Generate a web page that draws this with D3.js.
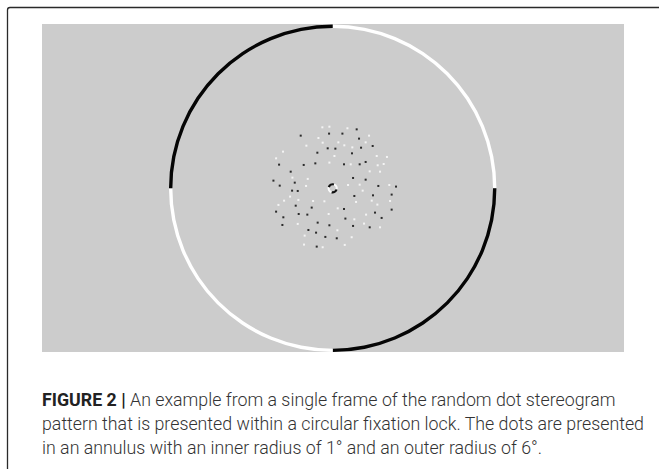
<!DOCTYPE html>
<html>
<head>
<meta charset="utf-8">
<script src="https://cdn.jsdelivr.net/npm/d3@7"></script>
<style>
  html, body { margin: 0; padding: 0; background: #fff; }
  svg { display: block; }
</style>
</head>
<body>
<svg id="chart" width="659" height="469"></svg>
<script>
// ---- DATA (positions in degrees of visual angle, relative to fixation) ----
const darkDotsX = [-3.00,-0.34,0.91,2.25,2.47,3.75,-1.44,-0.47,0.25,1.81,2.66,-2.72,-1.63,1.06,2.53,3.09,-5.03,-3.94,-5.56,-4.97,-3.56,-3.81,-3.28,1.91,3.09,4.28,5.94,2.03,3.78,5.53,-3.47,-1.97,-5.31,-3.19,-2.38,1.06,1.19,3.97,4.59,5.53,-4.63,-4.72,-1.41,-0.31,1.91,3.47,-2.28,-1.56,-0.69,0.38,-1.50];
const darkDotsY = [-4.94,-5.13,-5.13,-5.53,-4.66,-3.97,-3.34,-3.75,-3.72,-3.28,-3.81,-2.19,-2.34,-2.25,-2.25,-2.47,-2.22,-1.56,-0.72,-0.25,-0.53,0.22,0.25,-0.97,-0.81,-0.22,-0.16,0.72,0.66,0.59,1.63,1.81,2.19,2.41,2.47,1.94,2.84,2.28,2.78,2.00,2.72,3.44,3.22,3.47,3.53,3.66,3.91,4.16,4.56,4.69,5.47];
const lightDotsX = [-0.97,-0.31,1.38,3.41,-1.34,-0.94,-2.47,0.53,1.09,1.84,3.09,-4.66,-5.31,0.16,4.13,5.09,-0.31,1.69,4.22,4.78,3.47,4.44,-3.78,-2.34,-2.50,1.44,2.53,5.31,2.81,-4.00,-4.56,-3.22,-1.84,-0.78,2.19,3.66,5.38,-5.09,4.19,0.47,-0.38,3.13,2.03,-3.28,2.94,4.44,0.44,-2.63,1.78,1.13,-2.69,-0.94];
const lightDotsY = [-5.72,-5.78,-5.63,-4.94,-4.72,-4.28,-4.00,-4.31,-4.03,-3.84,-4.31,-3.44,-2.81,-3.03,-3.03,-2.94,-2.41,-2.25,-2.16,-2.28,-1.59,-1.56,-1.00,-0.88,-0.22,-0.31,-0.34,-0.31,0.22,0.78,1.16,1.09,1.19,1.22,1.28,1.16,1.19,1.56,1.53,1.88,2.41,2.47,2.91,3.34,3.31,3.66,3.94,4.44,4.59,5.31,5.28,5.53];
const lockRadiusDeg = 15.2;          // circular fixation lock
const fixationRadiusDeg = 0.38;      // central fixation marker
// quadrants of the lock, clockwise from 12 o'clock
const lockSegments = ["white", "black", "white", "black"];
const captionBold = "FIGURE 2 |";
const captionLines = [
  " An example from a single frame of the random dot stereogram",
  "pattern that is presented within a circular fixation lock. The dots are presented",
  "in an annulus with an inner radius of 1\u00b0 and an outer radius of 6\u00b0."
];

// ---- LAYOUT ----
const svg = d3.select("#chart");
const cx = 332.7, cy = 188.3;
const pxPerDeg = 10.66;
const x = d3.scaleLinear().domain([0, 1]).range([cx, cx + pxPerDeg]);
const y = d3.scaleLinear().domain([0, 1]).range([cy, cy + pxPerDeg]);
const r = d3.scaleLinear().domain([0, 1]).range([0, pxPerDeg]);

// frame
svg.append("path")
  .attr("d", "M7.5,480 L7.5,10 Q7.5,7.5 10,7.5 L670,7.5")
  .attr("fill", "none").attr("stroke", "#2a2a2a").attr("stroke-width", 1.3);

// gray stimulus panel
svg.append("rect")
  .attr("x", 42).attr("y", 24).attr("width", 582).attr("height", 328)
  .attr("fill", "#cccccc");

const g = svg.append("g").attr("transform", `translate(${cx},${cy})`);

// fixation lock ring
const ringW = 3.4;
const arcRing = d3.arc()
  .innerRadius(r(lockRadiusDeg) - ringW / 2)
  .outerRadius(r(lockRadiusDeg) + ringW / 2);
g.selectAll("path.lock").data(lockSegments).join("path")
  .attr("class", "lock")
  .attr("d", (d, i) => arcRing({ startAngle: i * Math.PI / 2, endAngle: (i + 1) * Math.PI / 2 }))
  .attr("fill", d => d === "black" ? "#050505" : "#ffffff");

// dots
const dark = darkDotsX.map((v, i) => ({ x: v, y: darkDotsY[i] }));
const light = lightDotsX.map((v, i) => ({ x: v, y: lightDotsY[i] }));
svg.selectAll("rect.light").data(light).join("rect")
  .attr("class", "light")
  .attr("x", d => x(d.x) - 1).attr("y", d => y(d.y) - 1)
  .attr("width", 2).attr("height", 2)
  .attr("fill", "#f4f4f4");
svg.selectAll("rect.dark").data(dark).join("rect")
  .attr("class", "dark")
  .attr("x", d => x(d.x) - 1).attr("y", d => y(d.y) - 1)
  .attr("width", 2).attr("height", 2)
  .attr("fill", "#2b2b2b");

// central fixation marker
const arcFix = d3.arc()
  .innerRadius(r(fixationRadiusDeg) - 1.1)
  .outerRadius(r(fixationRadiusDeg) + 1.1);
g.selectAll("path.fix").data(["white", "black", "white", "black"]).join("path")
  .attr("class", "fix")
  .attr("d", (d, i) => arcFix({ startAngle: i * Math.PI / 2 + 0.3, endAngle: (i + 1) * Math.PI / 2 + 0.3 }))
  .attr("fill", d => d === "black" ? "#111" : "#fafafa");

// caption
const cap = svg.append("text")
  .attr("font-family", "Roboto, 'Liberation Sans', Arial, sans-serif")
  .attr("font-weight", 300)
  .attr("font-size", 18)
  .attr("fill", "#333");
const lineY = [406, 430, 454];
const t0 = cap.append("tspan").attr("x", 42).attr("y", lineY[0]);
t0.append("tspan").attr("font-weight", 700).attr("fill", "#222").text(captionBold);
t0.append("tspan").text(captionLines[0]);
captionLines.slice(1).forEach((s, i) => {
  cap.append("tspan").attr("x", 42).attr("y", lineY[i + 1]).text(s);
});

// uniform horizontal fit: the widest line ends just past the panel's right edge
const tspans = cap.selectAll(":scope > tspan").nodes();
const widths = tspans.map(n => n.getComputedTextLength());
const k = (644 - 42) / widths[1];
tspans.forEach((node, i) => {
  d3.select(node).attr("textLength", widths[i] * k).attr("lengthAdjust", "spacingAndGlyphs");
});
</script>
</body>
</html>
